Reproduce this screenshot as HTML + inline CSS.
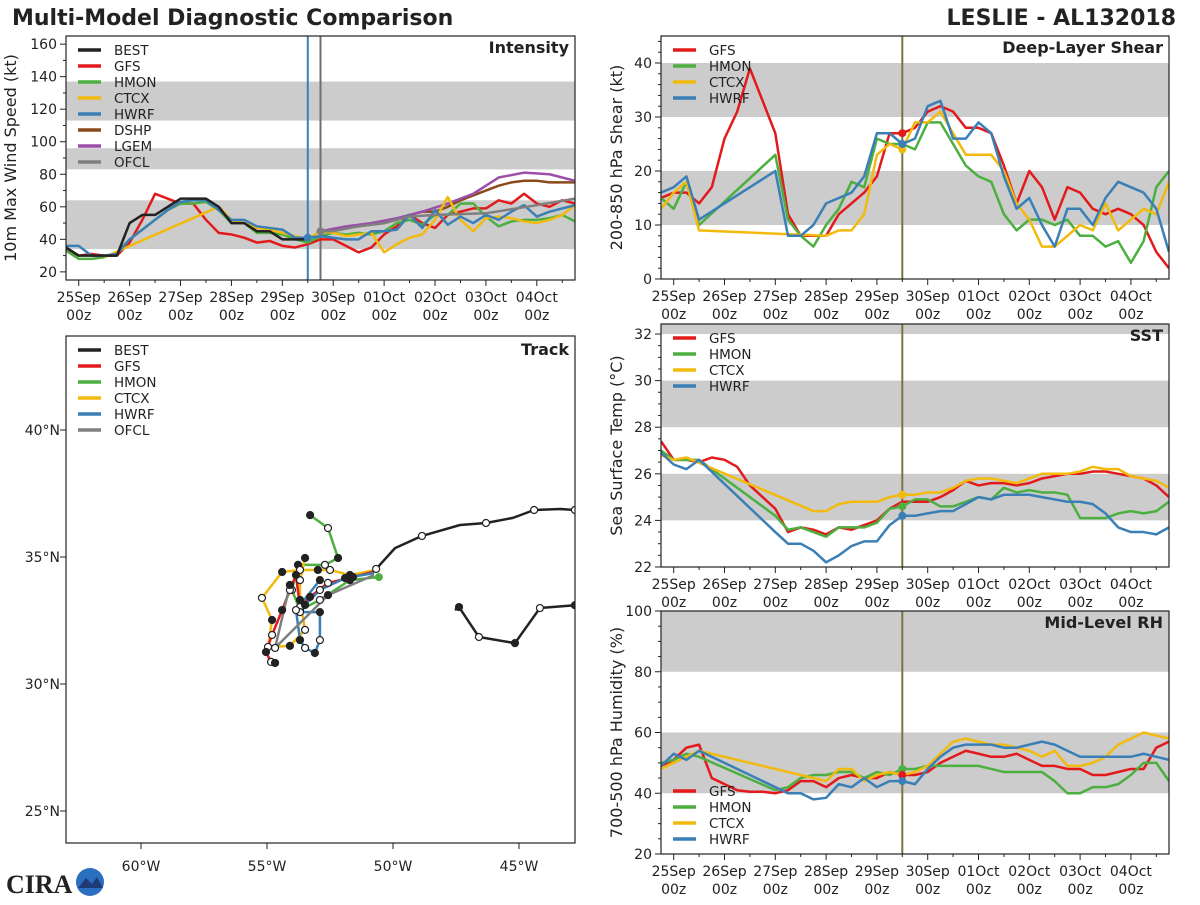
<!DOCTYPE html>
<html><head><meta charset="utf-8"><style>
body{margin:0;background:#fff;width:1200px;height:900px;overflow:hidden;font-family:"Liberation Sans","DejaVu Sans",sans-serif}
svg text{font-family:"DejaVu Sans","Liberation Sans",sans-serif;fill:#222}
</style></head><body>
<svg id="chart" width="1200" height="900" viewBox="0 0 1200 900" xmlns="http://www.w3.org/2000/svg">
<text x="12" y="25" font-size="22" font-weight="bold" fill="#333">Multi-Model Diagnostic Comparison</text>
<text x="1176" y="25" font-size="22" font-weight="bold" fill="#333" text-anchor="end">LESLIE - AL132018</text>
<g>
<text x="6" y="893" font-size="26" font-weight="bold" fill="#1f3f7a" style="font-family:'Liberation Serif',serif">CIRA</text>
<circle cx="90" cy="882" r="14" fill="#2a6fc0"/><path d="M78 888 L86 878 L92 884 L97 877 L103 888 Z" fill="#1e3a78"/>
</g>
</svg>
<script>
// ---------- time axis labels ----------
const dayLabels=["25Sep","26Sep","27Sep","28Sep","29Sep","30Sep","01Oct","02Oct","03Oct","04Oct"];
// ---------- INTENSITY data (hours from 25Sep00z, kt) ----------
const bestH=[-6,0,6,12,18,24,30,36,42,48,54,60,66,72,78,84,90,96,102,108];
const bestV=[35,30,30,30,30,50,55,55,60,65,65,65,60,50,50,45,45,40,40,40];
const gfsIH=[-6,0,6,12,18,24,30,36,42,48,54,60,66,72,78,84,90,96,102,108,114,120,126,132,138,144,150,156,162,168,174,180,186,192,198,204,210,216,222,228,234];
const gfsIV=[34,30,31,30,30,38,52,68,65,62,62,52,44,43,41,38,39,36,35,37,40,40,36,32,35,43,48,55,50,47,55,57,59,59,64,62,68,62,60,64,62];
const hmonIH=[-6,0,6,12,18,24,30,36,42,48,54,60,66,72,78,84,90,96,102,108,114,120,126,132,138,144,150,156,162,168,174,180,186,192,198,204,210,216,222,228,234];
const hmonIV=[33,28,28,29,32,40,46,52,58,62,62,63,58,50,50,44,44,43,40,38,42,44,43,44,43,45,50,52,49,55,55,62,62,54,48,51,52,52,53,55,51];
const ctcxIH=[12,66,72,78,84,90,96,102,108,114,120,126,132,138,144,150,156,162,168,174,180,186,192,198,204,210,216,222,228,234];
const ctcxIV=[29,60,52,50,47,46,44,42,40,45,44,42,43,44,32,37,41,43,52,66,52,45,53,54,53,51,50,52,55,61];
const hwrfIH=[-6,0,6,12,18,24,30,36,42,48,54,60,66,72,78,84,90,96,102,108,114,120,126,132,138,144,150,156,162,168,174,180,186,192,198,204,210,216,222,228,234];
const hwrfIV=[36,36,30,30,31,40,46,52,58,63,64,64,58,52,52,48,47,46,41,41,42,41,40,40,45,45,46,55,47,58,49,54,50,55,52,57,61,54,57,59,61];
const dshpH=[114,120,126,132,138,144,150,156,162,168,174,180,186,192,198,204,210,216,222,234];
const dshpV=[45,46,47,48,49,50,52,55,57,57,60,64,67,70,73,75,76,76,75,75];
const lgemH=[114,126,138,150,162,174,186,198,210,222,234];
const lgemV=[45,48,50,53,57,62,68,78,81,80,76];
const ofclH=[114,120,132,144,156,168,192,216,234];
const ofclV=[45,45,48,50,54,55,56,61,65];
// ---------- SHEAR data (kt) ----------
const h6=[-6,0,6,12,18,24,30,36,42,48,54,60,66,72,78,84,90,96,102,108,114,120,126,132,138,144,150,156,162,168,174,180,186,192,198,204,210,216,222,228,234];
const gfsSh=[15,16,16,14,17,26,31,39,33,27,12,8,8,8,12,14,16,19,27,27,28,31,32,31,28,28,27,21,14,20,17,11,17,16,13,12,13,12,10,5,2];
const hmonShH=[-6,0,6,12,48,54,60,66,72,78,84,90,96,102,108,114,120,126,132,138,144,150,156,162,168,174,180,186,192,198,204,210,216,222,228,234];
const hmonSh=[15,13,18,10,23,11,8,6,10,13,18,17,26,25,25,24,29,29,25,21,19,18,12,9,11,11,10,11,8,8,6,7,3,7,17,20];
const ctcxShH=[-6,0,6,12,72,78,84,90,96,102,108,114,120,126,132,138,144,150,156,162,168,174,180,186,192,198,204,210,216,222,228,234];
const ctcxSh=[13,16,18,9,8,9,9,12,23,25,24,29,29,31,27,23,23,23,20,14,11,6,6,8,10,9,14,9,11,13,12,18];
const hwrfShH=[-6,0,6,12,48,54,60,66,72,78,84,90,96,102,108,114,120,126,132,138,144,150,156,162,168,174,180,186,192,198,204,210,216,222,228,234];
const hwrfSh=[16,17,19,11,20,8,8,10,14,15,16,19,27,27,25,26,32,33,26,26,29,27,19,13,15,10,6,13,13,10,15,18,17,16,13,5];
// ---------- SST data (C) ----------
const gfsSst=[27.4,26.6,26.6,26.5,26.7,26.6,26.3,25.5,25.0,24.5,23.5,23.7,23.6,23.4,23.7,23.6,23.8,24.0,24.5,24.8,24.8,24.8,25.0,25.3,25.7,25.5,25.6,25.6,25.5,25.6,25.8,25.9,26.0,26.0,26.1,26.1,26.0,25.9,25.8,25.5,25.0];
const hmonSstH=[-6,0,6,12,48,54,60,66,72,78,84,90,96,102,108,114,120,126,132,138,144,150,156,162,168,174,180,186,192,198,204,210,216,222,228,234];
const hmonSst=[27.0,26.6,26.6,26.6,24.2,23.6,23.7,23.5,23.3,23.7,23.7,23.7,23.9,24.5,24.6,24.9,24.9,24.6,24.6,24.8,25.0,24.9,25.4,25.2,25.3,25.2,25.2,25.1,24.1,24.1,24.1,24.3,24.4,24.3,24.4,24.8];
const ctcxSstH=[-6,0,6,66,72,78,84,90,96,102,108,114,120,126,132,138,144,150,156,162,168,174,180,186,192,198,204,210,216,222,228,234];
const ctcxSst=[26.8,26.6,26.7,24.4,24.4,24.7,24.8,24.8,24.8,25.0,25.1,25.1,25.2,25.2,25.4,25.7,25.8,25.8,25.7,25.6,25.8,26.0,26.0,26.0,26.1,26.3,26.2,26.2,25.9,25.8,25.7,25.4];
const hwrfSstH=[-6,0,6,12,48,54,60,66,72,78,84,90,96,102,108,114,120,126,132,138,144,150,156,162,168,174,180,186,192,198,204,210,216,222,228,234];
const hwrfSst=[26.9,26.4,26.2,26.6,23.5,23.0,23.0,22.7,22.2,22.5,22.9,23.1,23.1,23.8,24.2,24.2,24.3,24.4,24.4,24.7,25.0,24.9,25.1,25.1,25.1,25.0,24.9,24.8,24.8,24.7,24.3,23.7,23.5,23.5,23.4,23.7];
// ---------- RH data (%) ----------
const gfsRh=[49,51,55,56,45,43,41,40.5,40.5,40,41,44,44,42,45,46,45,45,47,46,46,47,50,52,54,53,52,52,53,51,49,49,48,48,46,46,47,48,48,55,57];
const hmonRhH=[-6,0,6,12,48,54,60,66,72,78,84,90,96,102,108,114,120,126,132,138,144,150,156,162,168,174,180,186,192,198,204,210,216,222,228,234];
const hmonRh=[50,51,53,52,41,42,45,46,46,47,47,45,47,46,48,48,49,49,49,49,49,48,47,47,47,47,44,40,40,42,42,43,46,50,50,44];
const ctcxRhH=[-6,0,6,12,72,78,84,90,96,102,108,114,120,126,132,138,144,150,156,162,168,174,180,186,192,198,204,210,216,222,228,234];
const ctcxRh=[48,50,52,54,44,48,48,44,46,47,46,47,49,53,57,58,57,56,56,55,54,52,54,49,49,50,52,56,58,60,59,58];
const hwrfRhH=[-6,0,6,12,54,60,66,72,78,84,90,96,102,108,114,120,126,132,138,144,150,156,162,168,174,180,186,192,198,204,210,216,222,228,234];
const hwrfRh=[49,53,51,54,40,40,38,38.5,43,42,45,42,44,44,43,48,52,55,56,56,56,55,55,56,57,56,54,52,52,52,52,52,53,52,51];
// ---------- TRACK data (deg W, deg N) ----------
const bestLon=[47.54,47.38,46.59,45.16,44.17,42.78,41.5,41.5,42.78,43.37,44.4,45.24,46.31,47.34,48.85,49.92,50.67];
const bestLat=[32.91,33.03,31.85,31.61,32.99,33.10,33.3,36.9,36.85,36.89,36.85,36.54,36.34,36.26,35.83,35.35,34.53];
const gfsLon=[50.67,51.59,52.58,53.29,53.69,53.85,54.09,54.4,54.8,55.04,54.84,54.68];
const gfsLat=[34.45,34.21,33.98,33.43,33.03,34.29,33.7,32.91,31.93,31.26,30.87,30.83];
const hmonLon=[50.56,51.71,52.9,53.69,54.01,53.77,52.7,52.18,52.58,53.29];
const hmonLat=[34.21,34.09,33.31,32.91,33.7,34.69,34.69,34.96,36.14,36.65];
const ctcxLon=[50.67,51.71,52.5,52.98,53.69,54.4,55.2,54.8,54.96,54.09,53.49,53.69,53.69,53.49];
const ctcxLat=[34.49,34.29,34.49,34.49,34.49,34.41,33.39,32.52,31.46,31.5,32.13,33.31,34.09,34.96];
const hwrfLon=[50.75,51.9,52.9,53.49,53.69,52.9,52.9,53.1,53.49,53.69,53.85,52.9];
const hwrfLat=[34.37,34.17,33.7,33.11,32.83,32.83,31.73,31.22,31.42,31.73,32.91,34.09];
const ofclLon=[50.75,52.58,54.68,54.09];
const ofclLat=[34.29,33.5,31.42,33.9];
const lonTicks=[60,55,50,45];
const latTicks=[40,35,30,25];

const C={BEST:"#222222",GFS:"#e31a1c",HMON:"#4caf3f",CTCX:"#f2ba0c",HWRF:"#3a7fb6",DSHP:"#8b4a1c",LGEM:"#9b4fa8",OFCL:"#7f7f7f"};
const svg=document.getElementById('chart');
const NS="http://www.w3.org/2000/svg";
function mk(tag,attrs,parent){const e=document.createElementNS(NS,tag);for(const k in attrs)e.setAttribute(k,attrs[k]);(parent||svg).appendChild(e);return e;}
function txt(s,attrs,parent){const e=mk('text',attrs,parent);e.textContent=s;return e;}

function legend(g,keys,x,y){
  keys.forEach((k,i)=>{const yy=y+i*16;
    mk('line',{x1:x,y1:yy,x2:x+23,y2:yy,stroke:C[k],"stroke-width":3.5},g);
    const t=txt(k,{x:x+36,y:yy+5,"font-size":13.5},g);
    
    });
}
function panel(p){
  const g=mk('g',{});
  
  
  const xs=h=>p.x0+(h+6)/240*(p.x1-p.x0);
  const ys=v=>p.y1-(v-p.vmin)/(p.vmax-p.vmin)*(p.y1-p.y0);
  const clip='clip-'+p.name;
  const cp=mk('clipPath',{id:clip},g);mk('rect',{x:p.x0,y:p.y0,width:p.x1-p.x0,height:p.y1-p.y0},cp);
  p.bands.forEach(b=>{const top=ys(Math.min(b[1],p.vmax));const r=mk('rect',{x:p.x0,y:top,width:p.x1-p.x0,height:ys(b[0])-top,fill:"#cccccc"},g);
    
    });
  for(let d=0;d<10;d++){
    const x=xs(d*24);
    mk('line',{x1:x,y1:p.y1,x2:x,y2:p.y1+6,stroke:"#222","stroke-width":1},g);
    const xm=xs(d*24+12);mk('line',{x1:xm,y1:p.y1,x2:xm,y2:p.y1+3,stroke:"#222","stroke-width":1},g);
    const t1=txt(dayLabels[d],{x:x,y:p.y1+22,"font-size":14,"text-anchor":"middle"},g);
    
    
    txt("00z",{x:x,y:p.y1+40,"font-size":14,"text-anchor":"middle"},g);
  }
  p.yticks.forEach(v=>{const y=ys(v);mk('line',{x1:p.x0-6,y1:y,x2:p.x0,y2:y,stroke:"#222"},g);
    const t=txt(String(v),{x:p.x0-9,y:y+5,"font-size":14,"text-anchor":"end"},g);
    
    });
  p.yminor.forEach(v=>{const y=ys(v);mk('line',{x1:p.x0-3,y1:y,x2:p.x0,y2:y,stroke:"#222"},g);});
  const yl=txt(p.ylabel,{"font-size":16,"text-anchor":"middle",transform:"translate("+p.ylx+","+((p.y0+p.y1)/2)+") rotate(-90)"},g);
  
  
  p.vlines.forEach(v=>{mk('line',{x1:xs(v[0]),y1:p.y0,x2:xs(v[0]),y2:p.y1,stroke:v[1],"stroke-width":2},g);});
  const sg=mk('g',{"clip-path":"url(#"+clip+")"},g);
  p.series.forEach(s=>{
    const pl=mk('polyline',{points:s.h.map((h,i)=>xs(h)+","+ys(s.v[i])).join(" "),fill:"none",stroke:C[s.k],"stroke-width":2.5,"stroke-linejoin":"round"},sg);
    
    
  });
  (p.dots||[]).forEach(d=>{const c=mk('circle',{cx:xs(d[1]),cy:ys(d[2]),r:4,fill:C[d[0]]},g);
    
    });
  mk('rect',{x:p.x0,y:p.y0,width:p.x1-p.x0,height:p.y1-p.y0,fill:"none",stroke:"#222","stroke-width":1.2},g);
  const tt=txt(p.title,{x:p.x1-6,y:p.y0+17,"font-size":16,"font-weight":"bold","text-anchor":"end"},g);
  
  
  legend(g,p.legend,p.x0+12,p.ly);
}
panel({name:"intensity-panel",x0:66,x1:575,y0:36,y1:280,vmin:15,vmax:165,bands:[[34,64],[83,96],[113,137]],
  yticks:[20,40,60,80,100,120,140,160],yminor:[30,50,70,90,110,130,150],ylabel:"10m Max Wind Speed (kt)",ylx:16,
  vlines:[[108,"#3a7fb6"],[114,"#6f6f6f"]],title:"Intensity",ly:50,legend:["BEST","GFS","HMON","CTCX","HWRF","DSHP","LGEM","OFCL"],
  series:[{k:"DSHP",h:dshpH,v:dshpV},{k:"LGEM",h:lgemH,v:lgemV},{k:"GFS",h:gfsIH,v:gfsIV},{k:"HMON",h:hmonIH,v:hmonIV},{k:"CTCX",h:ctcxIH,v:ctcxIV},{k:"HWRF",h:hwrfIH,v:hwrfIV},{k:"OFCL",h:ofclH,v:ofclV},{k:"BEST",h:bestH,v:bestV}],
  dots:[["HWRF",108,41],["OFCL",114,45]]});
panel({name:"shear-panel",x0:661,x1:1169,y0:36,y1:279,vmin:0,vmax:45,bands:[[10,20],[30,40]],
  yticks:[0,10,20,30,40],yminor:[2,4,6,8,12,14,16,18,22,24,26,28,32,34,36,38,42,44],ylabel:"200-850 hPa Shear (kt)",ylx:622,
  vlines:[[108,"#7a7440"]],title:"Deep-Layer Shear",ly:50,legend:["GFS","HMON","CTCX","HWRF"],
  series:[{k:"GFS",h:h6,v:gfsSh},{k:"HMON",h:hmonShH,v:hmonSh},{k:"CTCX",h:ctcxShH,v:ctcxSh},{k:"HWRF",h:hwrfShH,v:hwrfSh}],
  dots:[["GFS",108,27],["CTCX",108,24],["HWRF",108,25]]});
panel({name:"sst-panel",x0:661,x1:1169,y0:324,y1:567,vmin:22,vmax:32.43,bands:[[24,26],[28,30],[32,34]],
  yticks:[22,24,26,28,30,32],yminor:[22.5,23,23.5,24.5,25,25.5,26.5,27,27.5,28.5,29,29.5,30.5,31,31.5],ylabel:"Sea Surface Temp (°C)",ylx:622,
  vlines:[[108,"#7a7440"]],title:"SST",ly:338,legend:["GFS","HMON","CTCX","HWRF"],
  series:[{k:"GFS",h:h6,v:gfsSst},{k:"HMON",h:hmonSstH,v:hmonSst},{k:"CTCX",h:ctcxSstH,v:ctcxSst},{k:"HWRF",h:hwrfSstH,v:hwrfSst}],
  dots:[["HMON",108,24.6],["CTCX",108,25.1],["HWRF",108,24.2]]});
panel({name:"rh-panel",x0:661,x1:1169,y0:611,y1:854,vmin:20,vmax:100,bands:[[40,60],[80,100]],
  yticks:[20,40,60,80,100],yminor:[25,30,35,45,50,55,65,70,75,85,90,95],ylabel:"700-500 hPa Humidity (%)",ylx:622,
  vlines:[[108,"#7a7440"]],title:"Mid-Level RH",ly:791,legend:["GFS","HMON","CTCX","HWRF"],
  series:[{k:"GFS",h:h6,v:gfsRh},{k:"HMON",h:hmonRhH,v:hmonRh},{k:"CTCX",h:ctcxRhH,v:ctcxRh},{k:"HWRF",h:hwrfRhH,v:hwrfRh}],
  dots:[["HMON",108,48],["GFS",108,46],["HWRF",108,44]]});

// ---------- TRACK ----------
(function(){
  const x0=66,x1=575,y0=336,y1=843;
  const lx=w=>141+(60-w)*25.2, ly=n=>430+(40-n)*25.4;
  const g=mk('g',{});
  
  
  const cp=mk('clipPath',{id:'clip-track'},g);mk('rect',{x:x0,y:y0,width:x1-x0,height:y1-y0},cp);
  lonTicks.forEach(w=>{const x=lx(w);mk('line',{x1:x,y1:y1,x2:x,y2:y1+6,stroke:"#222"},g);
    const t=txt(w+"°W",{x:x,y:y1+28,"font-size":14,"text-anchor":"middle"},g);
    
    });
  latTicks.forEach(n=>{const y=ly(n);mk('line',{x1:x0-6,y1:y,x2:x0,y2:y,stroke:"#222"},g);
    const t=txt(n+"°N",{x:x0-6,y:y+5,"font-size":14,"text-anchor":"end"},g);
    
    });
  const sg=mk('g',{"clip-path":"url(#clip-track)"},g);
  const tracks=[["HMON",hmonLon,hmonLat],["CTCX",ctcxLon,ctcxLat],["GFS",gfsLon,gfsLat],["HWRF",hwrfLon,hwrfLat],["OFCL",ofclLon,ofclLat],["BEST",bestLon,bestLat]];
  tracks.forEach(t=>{
    const pl=mk('polyline',{points:t[1].map((w,i)=>lx(w)+","+ly(t[2][i])).join(" "),fill:"none",stroke:C[t[0]],"stroke-width":2.5,"stroke-linejoin":"round"},sg);
    
    
  });
  tracks.forEach(t=>{
    t[1].forEach((w,i)=>{ if(i===0||(t[0]==="BEST"&&(i===6||i===7)))return;
      if(t[0]==="BEST"&&i%2===1&&i>8)return;
      const c=mk('circle',{cx:lx(w),cy:ly(t[2][i]),r:3.5,fill:(i%2?"#222":"#fff"),stroke:"#222","stroke-width":1.2},sg);
      
      
    });
  });
  mk('circle',{cx:lx(hmonLon[0]),cy:ly(hmonLat[0]),r:4,fill:C.HMON},sg);
  mk('rect',{x:x0,y:y0,width:x1-x0,height:y1-y0,fill:"none",stroke:"#222","stroke-width":1.2},g);
  const tt=txt("Track",{x:x1-6,y:y0+19,"font-size":16,"font-weight":"bold","text-anchor":"end"},g);
  
  
  legend(g,["BEST","GFS","HMON","CTCX","HWRF","OFCL"],x0+12,y0+14);
})();
</script>
</body></html>
